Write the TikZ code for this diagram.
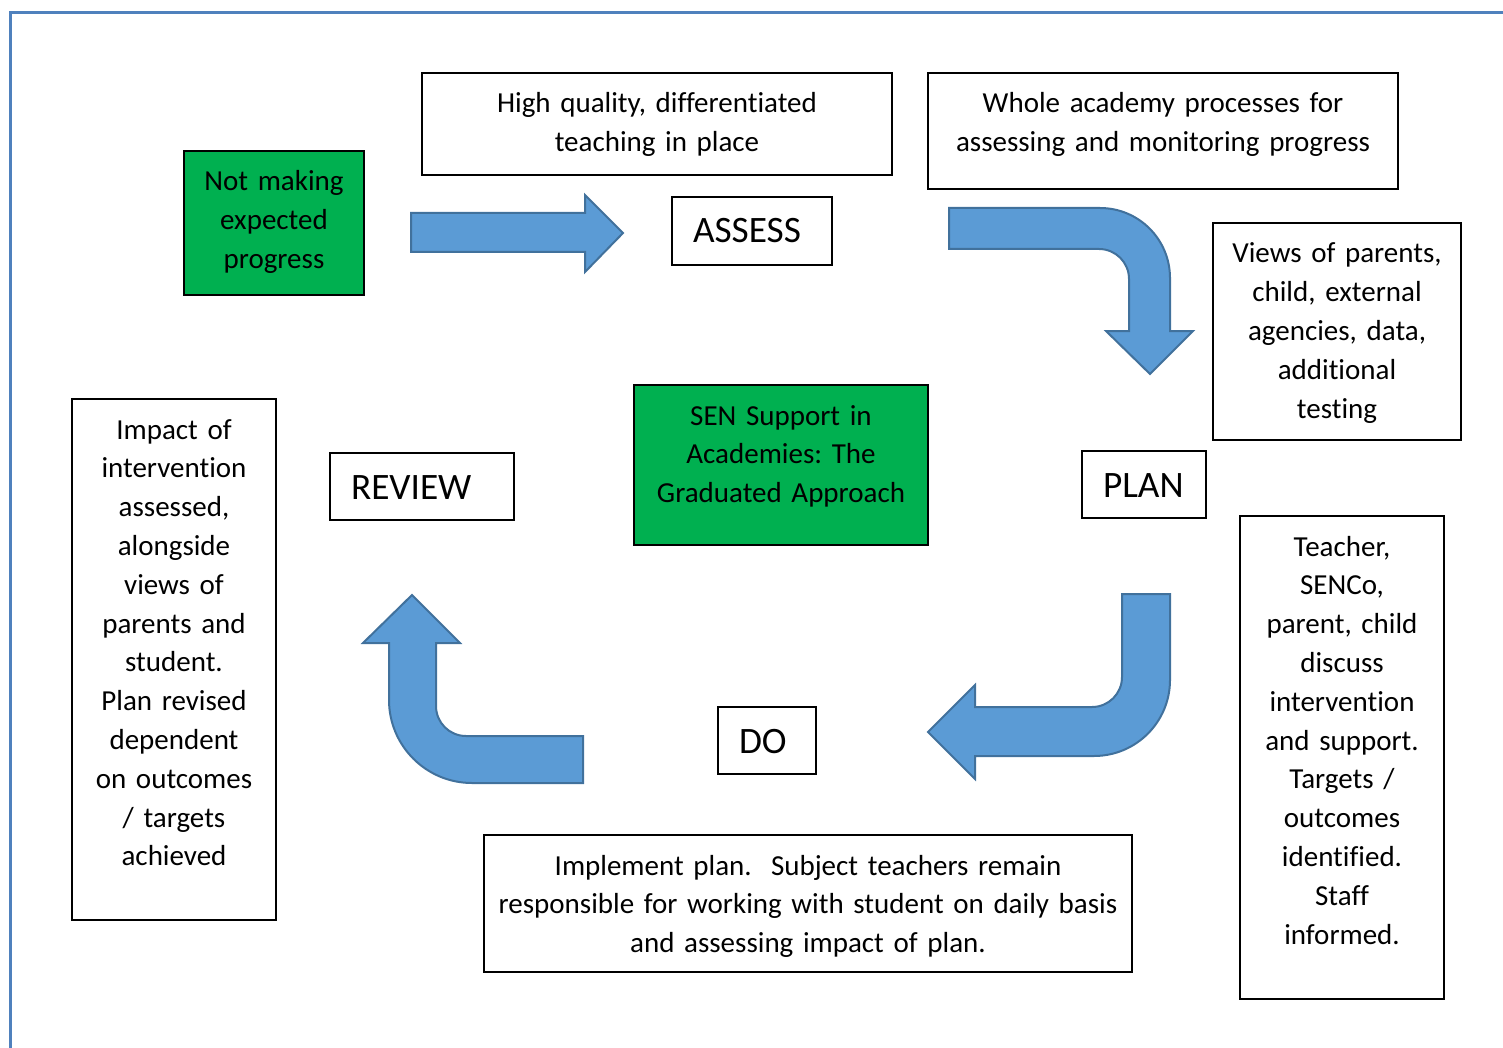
\documentclass[tikz,border=0pt]{standalone}
\usepackage{fontspec}
\setmainfont{Carlito}[Ligatures=NoCommon]
\frenchspacing

\definecolor{arrowblue}{HTML}{5B9BD5}
\definecolor{arrowedge}{HTML}{41719C}
\definecolor{sengreen}{HTML}{00B050}
\definecolor{framecol}{HTML}{4F81BD}

\begin{document}
\begin{tikzpicture}[
		x=1pt, y=-1pt,
		every node/.style={font=\fontsize{29}{38.8}\selectfont},
		box/.style={draw, line width=1.5pt, anchor=north west, outer sep=0pt, align=center, inner xsep=0pt, inner ysep=0pt, text height=40pt},
		greenbox/.style={box, fill=sengreen},
		stage/.style={box, align=left, inner xsep=21pt, text height=46pt, text depth=21pt, font=\fontsize{37.3}{43}\selectfont},
		blockarrow/.style={fill=arrowblue, draw=arrowedge, line width=2pt, line join=miter},
		frame/.style={draw=framecol, line width=3pt}
	]

		\useasboundingbox (0,0) rectangle (1503,1048);
		\clip (0,0) rectangle (1503,1048);

		% Page border
		\draw[frame] (10,1070) |- (1520,13);

		% Text boxes
		\node[greenbox, text width=180pt, text depth=104pt] (notmaking) at (184,151) {Not making\\expected\\progress};
		\node[box, text width=470pt, text depth=62pt] (quality) at (422,73) {High quality, differentiated\\teaching in place};
		\node[box, text width=470pt, text depth=76pt] (whole) at (928,73) {Whole academy processes for\\assessing and monitoring progress};
		\node[box, text width=248pt, text depth=177pt] (views) at (1213,223) {Views of parents,\\child, external\\agencies, data,\\additional\\testing};
		\node[greenbox, text width=294pt, text depth=120pt] (sen) at (634,385) {SEN Support in\\Academies: The\\Graduated Approach};
		\node[box, text width=204pt, text depth=481pt] (impact) at (72,399) {Impact of\\intervention\\assessed,\\alongside\\views of\\parents and\\student.\\Plan revised\\dependent\\on outcomes\\/ targets\\achieved};
		\node[box, text width=204pt, text depth=443pt] (teacher) at (1240,516) {Teacher,\\SENCo,\\parent, child\\discuss\\intervention\\and support.\\Targets /\\outcomes\\identified.\\Staff\\informed.};
		\node[box, text width=648pt, text depth=97pt] (implement) at (484,835) {Implement plan.\ \ Subject teachers remain\\responsible for working with student on daily basis\\and assessing impact of plan.};

		% Stages
		\node[stage, text width=118pt, text depth=22pt] (assess) at (672,197) {ASSESS};
		\node[stage, text width=82pt] (plan) at (1082,451) {PLAN};
		\node[stage, text width=56pt] (do) at (718,707) {DO};
		\node[stage, text width=142pt] (review) at (330,453) {REVIEW};

		% Arrows
		\draw[blockarrow] (411,213) -- (585,213) -- (585,195) -- (623,233) -- (585,272) -- (585,252) -- (411,252) -- cycle;
		\draw[blockarrow] (949,208) -- (1100,208) .. controls (1138.7,208) and (1170,239.3) .. (1170,278)
			-- (1170,331) -- (1193,331) -- (1150,374) -- (1106,331) -- (1129,331)
			-- (1129,279) .. controls (1129,262.4) and (1115.6,249) .. (1099,249) -- (949,249) -- cycle;
		\draw[blockarrow] (1122,594) -- (1170,594) -- (1170,680) .. controls (1170,722) and (1136,756) .. (1094,756)
			-- (975,756) -- (975,779) -- (928,732) -- (975,685) -- (975,707)
			-- (1092,707) .. controls (1108.6,707) and (1122,693.6) .. (1122,677) -- cycle;
		\draw[blockarrow] (583,736) -- (466,736) .. controls (449.4,736) and (436,722.6) .. (436,706)
			-- (436,643) -- (460,643) -- (412,595) -- (363,643) -- (389,643)
			-- (389,700) .. controls (389,745.8) and (426.2,783) .. (472,783) -- (583,783) -- cycle;
	\end{tikzpicture}
\end{document}
